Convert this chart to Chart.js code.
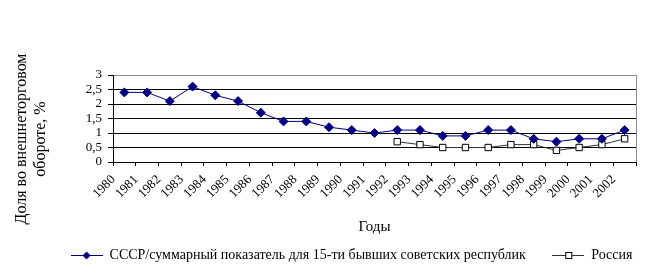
<!DOCTYPE html>
<html>
<head>
<meta charset="utf-8">
<script src="https://cdn.jsdelivr.net/npm/chart.js@4/dist/chart.umd.min.js"></script>
<style>
  html, body { margin: 0; padding: 0; background: #fff; }
  canvas { display: block; }
</style>
</head>
<body>
<canvas id="chart" width="653" height="276"></canvas>
<script>
const years = ["1980", "1981", "1982", "1983", "1984", "1985", "1986", "1987", "1988", "1989", "1990", "1991",
  "1992", "1993", "1994", "1995", "1996", "1997", "1998", "1999", "2000", "2001", "2002"];
const ussrShare = [2.4, 2.4, 2.1, 2.6, 2.3, 2.1, 1.7, 1.4, 1.4, 1.2, 1.1, 1.0,
  1.1, 1.1, 0.9, 0.9, 1.1, 1.1, 0.8, 0.7, 0.8, 0.8, 1.1];
const russiaShare = [null, null, null, null, null, null, null, null, null, null, null, null,
  0.7, 0.6, 0.5, 0.5, 0.5, 0.6, 0.6, 0.4, 0.5, 0.6, 0.8];
const seriesNames = ["СССР/суммарный показатель для 15-ти бывших советских республик", "Россия"];
const yTitle = ["Доля во внешнеторговом", "обороте, %"];
const xTitle = "Годы";
const yMin = 0, yMax = 3, yStep = 0.5;

const FONT = "'Liberation Serif', 'Times New Roman', serif";
Chart.defaults.font.family = FONT;
Chart.defaults.color = "#000";

// small line+marker pictures for the legend
function makeMarker(lineColor, drawMark) {
  const c = document.createElement("canvas");
  c.width = 32;
  c.height = 12;
  const g = c.getContext("2d");
  g.strokeStyle = lineColor;
  g.lineWidth = 1;
  g.beginPath();
  g.moveTo(0, 6.5);
  g.lineTo(32, 6.5);
  g.stroke();
  drawMark(g);
  return c;
}
const markers = [
  makeMarker("#000080", g => {
    g.fillStyle = "#000080";
    g.beginPath();
    g.moveTo(16, 2.5); g.lineTo(20, 6.5); g.lineTo(16, 10.5); g.lineTo(12, 6.5);
    g.closePath();
    g.fill();
  }),
  makeMarker("#333", g => {
    g.fillStyle = "#fff";
    g.strokeStyle = "#000";
    g.fillRect(13, 4, 6, 6);
    g.strokeRect(13.5, 3.5, 6, 6);
  })
];
const legendGap = "       ";

// y title (two lines) and the grey right edge of the plot
const extras = {
  id: "extras",
  afterDraw(chart) {
    const { ctx, chartArea } = chart;
    ctx.save();
    ctx.strokeStyle = "#8c8c8c";
    ctx.lineWidth = 1;
    const x = Math.round(chartArea.right) + 0.5;
    ctx.beginPath();
    ctx.moveTo(x, chartArea.top);
    ctx.lineTo(x, chartArea.bottom);
    ctx.stroke();

    ctx.fillStyle = "#000";
    ctx.font = "16px " + FONT;
    ctx.textAlign = "center";
    ctx.textBaseline = "middle";
    ctx.translate(22, 139);
    ctx.rotate(-Math.PI / 2);
    ctx.fillText(yTitle[0], 0, 0);
    ctx.fillText(yTitle[1], 0, 19);
    ctx.restore();
  }
};

new Chart(document.getElementById("chart"), {
  type: "line",
  data: {
    labels: years,
    datasets: [
      {
        label: seriesNames[0],
        data: ussrShare,
        borderColor: "#000080",
        backgroundColor: "#000080",
        borderWidth: 1,
        pointStyle: "rectRot",
        pointRadius: 4.5,
        pointBorderWidth: 1,
        tension: 0
      },
      {
        label: seriesNames[1],
        data: russiaShare,
        borderColor: "#333",
        backgroundColor: "#fff",
        pointBorderColor: "#000",
        borderWidth: 1,
        pointStyle: "rect",
        pointRadius: 4.5,
        pointBorderWidth: 1,
        tension: 0
      }
    ]
  },
  options: {
    responsive: false,
    devicePixelRatio: 1,
    animation: false,
    layout: { padding: { left: 67, right: 17, top: 75, bottom: 4 } },
    plugins: {
      tooltip: { enabled: false },
      legend: {
        position: "bottom",
        labels: {
          usePointStyle: true,
          pointStyleWidth: 32,
          padding: 2,
          color: "#000",
          font: { size: 14, family: FONT },
          generateLabels: chart => chart.data.datasets.map((ds, i) => ({
            text: ds.label + (i === 0 ? legendGap : ""),
            pointStyle: markers[i],
            fillStyle: "transparent",
            strokeStyle: "transparent",
            lineWidth: 0,
            hidden: false,
            datasetIndex: i,
            fontColor: "#000"
          }))
        }
      }
    },
    scales: {
      x: {
        offset: true,
        afterFit: s => { s.height = 84; },
        grid: { display: true, drawOnChartArea: false, drawTicks: true, tickLength: 4, offset: true, tickColor: "#000" },
        border: { color: "#000", width: 1 },
        ticks: {
          autoSkip: false,
          minRotation: 45,
          maxRotation: 45,
          labelOffset: -11,
          padding: 6,
          color: "#000",
          font: { size: 13, family: FONT }
        },
        title: {
          display: true,
          text: xTitle,
          color: "#000",
          font: { size: 15, family: FONT },
          padding: { top: 0, bottom: 10 }
        }
      },
      y: {
        min: yMin,
        max: yMax,
        afterFit: s => { s.width = 46; },
        grid: {
          color: c => (c.tick && c.tick.value === yMax ? "#8c8c8c" : "#000"),
          tickColor: "#000",
          tickLength: 5,
          lineWidth: 1
        },
        border: { color: "#000", width: 1 },
        ticks: {
          stepSize: yStep,
          autoSkip: false,
          padding: 6,
          color: "#000",
          font: { size: 13, family: FONT },
          callback: v => String(v).replace(".", ",")
        }
      }
    }
  },
  plugins: [extras]
});
</script>
</body>
</html>
